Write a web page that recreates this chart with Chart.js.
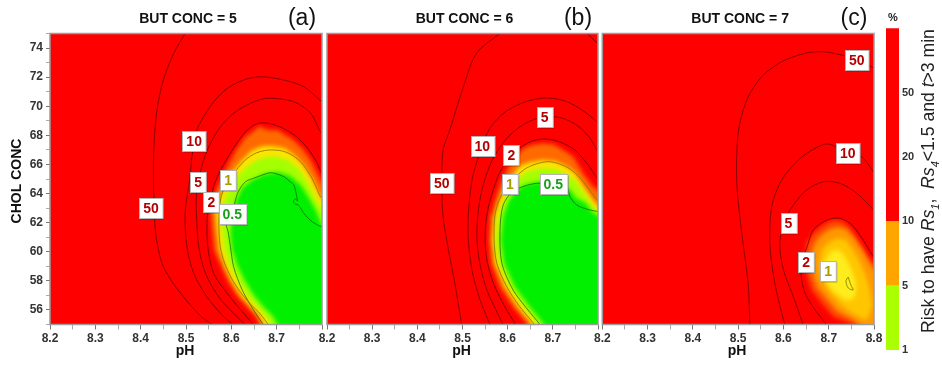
<!DOCTYPE html>
<html>
<head>
<meta charset="utf-8">
<script src="https://cdn.jsdelivr.net/npm/chart.js@4.4.0/dist/chart.umd.min.js"></script>
<style>
  html, body { margin: 0; padding: 0; background: #fff; }
  #wrap { position: relative; width: 942px; height: 369px; overflow: hidden; }
  canvas { position: absolute; top: 0; }
</style>
</head>
<body>
<div id="wrap">
  <canvas id="pa" width="335" height="369" style="left:0px"></canvas>
  <canvas id="pb" width="301" height="369" style="left:310px"></canvas>
  <canvas id="pc" width="305" height="369" style="left:585px"></canvas>
  <canvas id="cb" width="62" height="369" style="left:880px"></canvas>
</div>
<script>
// axes
const phTicks = [8.2, 8.3, 8.4, 8.5, 8.6, 8.7, 8.8];
const phMinor = [8.25, 8.35, 8.45, 8.55, 8.65, 8.75];
const cholTicks = [56, 58, 60, 62, 64, 66, 68, 70, 72, 74];
const cholMinor = [55, 57, 59, 61, 63, 65, 67, 69, 71, 73, 75];
const butConc = [5, 6, 7];
const panelTags = ['(a)', '(b)', '(c)'];

// colour bar
const cbTicks = ['1', '5', '10', '20', '50'];
const cbBands = [1, 1, 3];

// ---- panel (a): risk regions [pH, chol] ----
const edgeA = [[8.669,54.62],[8.653,55.58],[8.635,56.20],[8.611,57.03],[8.591,58.06],[8.576,59.09],[8.562,60.12],[8.558,61.29],[8.554,62.66],[8.560,63.69],[8.571,64.52],[8.589,65.76],[8.611,66.99],[8.631,67.89],[8.649,68.30],[8.662,68.64],[8.673,68.44],[8.686,68.37],[8.702,68.37],[8.715,68.09],[8.737,67.68],[8.759,66.99],[8.775,66.31],[8.788,65.48],[8.799,64.79],[8.819,64.59],[8.819,54.62]];
const yellowA = [[8.677,54.62],[8.662,55.58],[8.644,56.20],[8.620,57.03],[8.600,58.06],[8.585,59.09],[8.573,60.12],[8.569,61.29],[8.565,62.66],[8.571,63.69],[8.582,64.38],[8.602,65.48],[8.624,66.31],[8.646,66.99],[8.669,67.27],[8.691,67.27],[8.717,67.13],[8.739,66.65],[8.759,65.97],[8.777,65.07],[8.792,64.11],[8.801,63.56],[8.819,63.42],[8.819,54.62]];
const limeA = [[8.691,54.62],[8.675,55.58],[8.657,56.20],[8.633,57.03],[8.613,58.06],[8.596,59.09],[8.585,60.12],[8.580,61.29],[8.578,62.66],[8.585,63.69],[8.598,64.38],[8.615,65.28],[8.638,65.97],[8.664,66.44],[8.697,66.58],[8.726,66.31],[8.748,65.76],[8.766,64.93],[8.781,64.04],[8.794,63.21],[8.819,62.73],[8.819,54.62]];
const greenA = [[8.708,54.62],[8.691,55.58],[8.671,56.20],[8.649,57.03],[8.629,58.06],[8.613,59.09],[8.602,60.12],[8.598,61.29],[8.602,62.53],[8.611,63.56],[8.624,64.38],[8.646,64.93],[8.673,65.34],[8.704,65.48],[8.730,65.21],[8.753,64.59],[8.770,63.76],[8.786,62.87],[8.799,61.91],[8.819,61.63],[8.819,54.62]];

// panel (a): contour lines
const c50A = [[8.498,75.01],[8.473,73.64],[8.450,71.80],[8.436,69.74],[8.430,67.68],[8.428,65.39],[8.430,63.10],[8.433,61.27],[8.447,59.21],[8.470,57.90],[8.492,57.00],[8.513,56.22],[8.535,55.50],[8.557,55.01],[8.565,54.80]];
const c10A = [[8.820,70.00],[8.800,70.31],[8.760,71.34],[8.716,71.80],[8.664,72.03],[8.627,71.80],[8.591,71.23],[8.561,70.31],[8.539,69.28],[8.524,68.37],[8.513,66.53],[8.509,65.16],[8.498,62.66],[8.502,60.35],[8.517,58.52],[8.546,56.91],[8.583,55.54],[8.605,54.97],[8.620,54.60]];
const c5A = [[8.820,67.80],[8.799,68.14],[8.775,69.52],[8.738,70.31],[8.679,70.55],[8.642,70.20],[8.605,69.52],[8.576,68.59],[8.554,67.45],[8.539,66.31],[8.527,64.79],[8.523,63.90],[8.523,62.66],[8.528,60.35],[8.543,58.52],[8.572,56.91],[8.605,55.77],[8.631,54.97],[8.640,54.60]];
const c2A = [[8.820,65.00],[8.801,65.34],[8.788,66.17],[8.766,67.20],[8.739,68.02],[8.708,68.57],[8.677,68.85],[8.655,68.78],[8.633,68.30],[8.611,67.41],[8.589,66.31],[8.571,65.28],[8.560,64.38],[8.556,63.42],[8.547,62.39],[8.548,60.35],[8.561,58.52],[8.591,57.14],[8.624,55.88],[8.649,54.97],[8.655,54.60]];
const c1A = [[8.820,63.40],[8.799,63.69],[8.788,64.38],[8.775,65.21],[8.757,66.03],[8.737,66.58],[8.713,66.92],[8.682,66.99],[8.655,66.79],[8.631,66.31],[8.611,65.62],[8.593,64.93],[8.578,63.83],[8.573,62.66],[8.573,61.29],[8.576,60.26],[8.585,59.23],[8.600,58.20],[8.620,57.23],[8.642,56.41],[8.664,55.72],[8.682,54.97],[8.690,54.60]];
const c05A = [[8.820,61.60],[8.799,61.72],[8.778,62.07],[8.760,62.64],[8.748,63.21],[8.741,63.28],[8.737,63.45],[8.741,63.63],[8.746,63.49],[8.745,63.69],[8.738,64.59],[8.730,64.81],[8.716,65.16],[8.690,65.43],[8.679,65.39],[8.649,65.05],[8.631,64.81],[8.615,64.11],[8.607,63.28],[8.602,62.59],[8.589,61.91],[8.593,61.36],[8.598,60.35],[8.605,58.97],[8.624,57.37],[8.649,56.00],[8.671,54.97],[8.680,54.60]];
const labelsA = [['50',8.423,62.99],['10',8.518,67.61],['5',8.527,64.79],['2',8.556,63.42],['1',8.593,64.93],['0.5',8.602,62.59]];

// ---- panel (b) ----
const edgeB = [[8.643,54.62],[8.642,55.08],[8.612,56.20],[8.583,57.58],[8.563,59.23],[8.559,60.81],[8.561,62.39],[8.574,63.76],[8.587,64.93],[8.598,65.62],[8.616,66.42],[8.635,67.11],[8.653,67.34],[8.679,67.45],[8.701,67.39],[8.723,66.99],[8.745,66.53],[8.767,65.39],[8.786,64.59],[8.804,64.11],[8.827,64.11],[8.827,54.62]];
const yellowB = [[8.656,54.62],[8.652,55.10],[8.623,56.20],[8.594,57.58],[8.572,59.23],[8.566,60.81],[8.570,62.39],[8.583,63.63],[8.596,64.59],[8.610,65.28],[8.627,65.89],[8.649,66.17],[8.678,66.31],[8.705,66.24],[8.729,65.89],[8.749,65.41],[8.769,64.45],[8.787,63.63],[8.804,63.01],[8.827,63.01],[8.827,54.62]];
const limeB = [[8.672,54.62],[8.665,55.10],[8.636,56.20],[8.605,57.58],[8.581,59.23],[8.574,60.81],[8.579,62.39],[8.592,63.56],[8.605,64.38],[8.623,65.07],[8.645,65.55],[8.676,65.76],[8.707,65.69],[8.731,65.34],[8.753,64.79],[8.773,63.83],[8.791,63.08],[8.804,62.66],[8.827,62.66],[8.827,54.62]];
const greenB = [[8.687,54.62],[8.678,55.10],[8.649,56.20],[8.616,57.58],[8.592,59.23],[8.585,60.81],[8.590,62.39],[8.601,63.42],[8.616,64.11],[8.636,64.59],[8.663,64.79],[8.694,64.86],[8.720,64.66],[8.738,64.24],[8.751,63.69],[8.773,63.35],[8.787,62.73],[8.804,62.39],[8.827,62.39],[8.827,54.62]];

const c50B = [[8.600,75.40],[8.583,75.01],[8.531,73.64],[8.502,71.34],[8.472,68.37],[8.457,66.99],[8.454,64.70],[8.457,62.41],[8.469,60.12],[8.483,57.83],[8.498,55.01],[8.500,54.60]];
const c50Bcorner = [[8.760,75.20],[8.775,75.01],[8.799,74.33],[8.820,73.90]];
const c10B = [[8.565,54.60],[8.561,54.97],[8.539,56.68],[8.521,58.75],[8.512,61.49],[8.521,64.93],[8.544,67.28],[8.561,68.51],[8.594,69.60],[8.638,70.29],[8.683,70.57],[8.727,70.36],[8.765,69.74],[8.798,68.92],[8.815,68.51]];
const c5B = [[8.595,54.60],[8.590,54.97],[8.574,56.00],[8.554,57.37],[8.539,59.09],[8.532,60.81],[8.534,62.53],[8.543,64.24],[8.561,65.97],[8.583,67.20],[8.610,68.16],[8.645,68.92],[8.682,69.28],[8.720,69.19],[8.756,68.64],[8.782,67.82],[8.800,66.86],[8.815,66.31]];
const c2B = [[8.622,54.60],[8.618,54.97],[8.594,56.20],[8.570,57.71],[8.554,59.43],[8.550,61.15],[8.556,62.87],[8.568,64.24],[8.583,65.48],[8.608,66.65],[8.627,67.13],[8.654,67.61],[8.683,67.75],[8.716,67.54],[8.749,66.99],[8.778,65.97],[8.798,65.07],[8.815,64.52]];
const c1B = [[8.665,54.60],[8.660,54.97],[8.627,56.22],[8.598,57.60],[8.576,59.21],[8.570,60.81],[8.572,62.53],[8.583,63.69],[8.605,64.67],[8.635,65.62],[8.663,66.03],[8.694,66.19],[8.731,65.82],[8.756,65.21],[8.776,64.45],[8.798,63.56],[8.815,63.14]];
const c05B = [[8.678,54.60],[8.672,54.97],[8.642,56.11],[8.612,57.37],[8.587,59.21],[8.583,61.49],[8.590,63.21],[8.610,64.11],[8.638,64.52],[8.664,64.70],[8.701,64.67],[8.731,64.47],[8.738,63.78],[8.753,63.21],[8.782,62.87],[8.803,62.75],[8.815,62.66]];
const labelsB = [['50',8.454,64.70],['10',8.544,67.28],['5',8.682,69.28],['2',8.608,66.65],['1',8.605,64.67],['0.5',8.701,64.67]];

// ---- panel (c) ----
const edgeC = [[8.813,53.90],[8.784,54.83],[8.747,55.08],[8.710,55.54],[8.685,56.46],[8.662,57.37],[8.651,58.52],[8.648,59.66],[8.651,60.58],[8.666,61.27],[8.688,61.84],[8.710,62.18],[8.732,62.07],[8.751,61.49],[8.769,60.58],[8.787,59.66],[8.800,59.16],[8.813,59.02]];
const orangeC = [[8.813,53.93],[8.782,54.62],[8.751,55.38],[8.718,55.93],[8.696,56.75],[8.674,57.58],[8.663,58.61],[8.661,59.64],[8.666,60.40],[8.679,61.01],[8.698,61.49],[8.718,61.70],[8.738,61.56],[8.756,60.95],[8.774,60.12],[8.789,59.30],[8.800,58.75],[8.813,58.61]];
const amberC = [[8.780,55.31],[8.747,55.86],[8.721,56.55],[8.698,57.37],[8.683,58.33],[8.679,59.30],[8.685,60.12],[8.701,60.67],[8.721,60.95],[8.738,60.81],[8.754,60.12],[8.769,59.30],[8.782,58.33],[8.791,57.37],[8.796,56.34],[8.787,55.45]];
const yellowC = [[8.736,56.68],[8.712,57.23],[8.694,57.92],[8.687,58.75],[8.694,59.57],[8.709,60.12],[8.725,60.12],[8.738,59.57],[8.751,58.75],[8.760,57.92],[8.760,57.10],[8.751,56.68]];

const c50C = [[8.528,54.60],[8.526,55.01],[8.522,57.83],[8.508,61.27],[8.497,64.70],[8.500,68.14],[8.519,70.43],[8.552,72.03],[8.596,73.06],[8.648,73.64],[8.685,73.75],[8.729,73.52],[8.762,73.18],[8.801,72.61],[8.820,72.40]];
const c10C = [[8.608,54.60],[8.603,54.97],[8.581,57.83],[8.570,60.58],[8.574,63.10],[8.596,64.93],[8.633,66.31],[8.670,67.11],[8.699,67.41],[8.742,66.77],[8.773,66.53],[8.801,65.39],[8.813,64.93]];
const c5C = [[8.650,54.60],[8.644,54.97],[8.622,56.91],[8.600,58.75],[8.592,60.58],[8.603,62.18],[8.622,63.21],[8.651,64.24],[8.688,64.81],[8.725,64.70],[8.762,64.02],[8.799,62.87],[8.813,62.32]];
const c2C = [[8.705,54.60],[8.696,54.97],[8.670,56.00],[8.648,57.14],[8.639,58.40],[8.643,59.57],[8.652,60.33],[8.666,61.49],[8.696,62.18],[8.725,62.30],[8.751,61.84],[8.776,60.81],[8.799,59.66],[8.813,59.30]];
const c1C = [[8.743,58.26],[8.749,57.71],[8.754,57.37],[8.743,57.51],[8.738,57.99],[8.743,58.26]];
const labelsC = [['50',8.762,73.18],['10',8.742,66.77],['5',8.611,61.96],['2',8.650,59.32],['1',8.699,58.69]];

// ---- styles ----
const FONT = '"Liberation Sans", Arial, Helvetica, sans-serif';
const RED = '#ff0000';
const greenRamp = ['#ff6a00', '#ffe400', '#a4ff00', '#00f000'];
const orangeRamp = ['#ff4a00', '#ff9800', '#ffc600', '#ffec1c'];
const DARK = 'rgba(70,0,0,0.62)';
const lineColor = { '50': DARK, '10': DARK, '5': DARK, '2': DARK, '1': 'rgba(130,125,0,0.85)', '0.5': 'rgba(20,90,20,0.7)' };
const labelColor = { '50': '#b40000', '10': '#b40000', '5': '#b40000', '2': '#b40000', '1': '#a89c00', '0.5': '#1a9f1a' };

Chart.defaults.font.family = FONT;
Chart.defaults.animation = false;

function heatPlugin(regions, colours) {
  return {
    id: 'heat',
    beforeDatasetsDraw(chart) {
      const { ctx, chartArea: a, scales: { x, y } } = chart;
      ctx.save();
      ctx.beginPath();
      ctx.rect(a.left, a.top, a.width, a.height);
      ctx.clip();
      ctx.fillStyle = RED;
      ctx.fillRect(a.left, a.top, a.width, a.height);
      regions.forEach((poly, i) => {
        ctx.filter = 'blur(2px)';
        ctx.fillStyle = colours[i];
        ctx.beginPath();
        poly.forEach(([ph, ch], j) => {
          const px = x.getPixelForValue(ph), py = y.getPixelForValue(ch);
          if (j) ctx.lineTo(px, py); else ctx.moveTo(px, py);
        });
        ctx.closePath();
        ctx.fill();
      });
      ctx.filter = 'none';
      ctx.restore();
    }
  };
}

function overlayPlugin(idx, labels, showYTitle) {
  return {
    id: 'overlay',
    afterDatasetsDraw(chart) {
      const { ctx, chartArea: a, scales: { x, y } } = chart;
      ctx.save();
      ctx.strokeStyle = '#9c9c9c';
      ctx.lineWidth = 1.5;
      ctx.strokeRect(a.left, a.top, a.width, a.height);
      ctx.font = 'bold 14px ' + FONT;
      ctx.textAlign = 'center';
      ctx.textBaseline = 'middle';
      labels.forEach(([txt, ph, ch]) => {
        const cx = x.getPixelForValue(ph), cy = y.getPixelForValue(ch);
        const w = ctx.measureText(txt).width + 8, h = 20;
        const l = Math.round(cx - w / 2) + 0.5, t = Math.round(cy - h / 2) + 0.5;
        ctx.fillStyle = 'rgba(0,0,0,0.3)';
        ctx.fillRect(l + 1, t + 1, w, h);
        ctx.fillStyle = '#fff';
        ctx.fillRect(l, t, w, h);
        ctx.strokeStyle = '#b4b4b4';
        ctx.lineWidth = 1;
        ctx.strokeRect(l, t, w, h);
        ctx.fillStyle = labelColor[txt];
        ctx.fillText(txt, cx, cy + 1);
      });
      ctx.restore();
    },
    afterDraw(chart) {
      const { ctx, chartArea: a } = chart;
      const mid = (a.left + a.right) / 2;
      ctx.save();
      ctx.fillStyle = '#111';
      ctx.textAlign = 'center';
      ctx.textBaseline = 'middle';
      ctx.font = 'bold 14px ' + FONT;
      ctx.fillText('BUT CONC = ' + butConc[idx], mid + 2, 19);
      ctx.font = '23px ' + FONT;
      ctx.fillText(panelTags[idx], a.right - 20, 19);
      ctx.font = 'bold 14px ' + FONT;
      ctx.fillText('pH', mid - 1, 351);
      if (showYTitle) {
        ctx.translate(17, (a.top + a.bottom) / 2 + 2);
        ctx.rotate(-Math.PI / 2);
        ctx.font = 'bold 14px ' + FONT;
        ctx.fillText('CHOL CONC', 0, 0);
      }
      ctx.restore();
    }
  };
}

function makePanel(id, idx, regions, colours, contours, labels, pad, showY) {
  // the next panel covers the last pH label of the panels on its left
  const lastShown = idx < 2 ? 8.7 : 8.8;
  new Chart(document.getElementById(id), {
    type: 'scatter',
    data: {
      datasets: contours.map(([level, pts]) => ({
        data: pts,
        showLine: true,
        borderColor: lineColor[level],
        borderWidth: 1,
        pointRadius: 0,
        tension: 0.3,
        fill: false
      }))
    },
    options: {
      responsive: false,
      devicePixelRatio: 1,
      layout: { padding: { top: 33.5, left: pad.left, right: pad.right, bottom: 0 } },
      plugins: { legend: { display: false }, tooltip: { enabled: false } },
      scales: {
        x: {
          min: 8.2, max: 8.8,
          afterBuildTicks: s => {
            s.ticks = [...phTicks, ...phMinor].sort((p, q) => p - q).map(v => ({ value: v, major: phTicks.includes(v) }));
          },
          afterFit: s => { s.height = 44.5; },
          ticks: {
            autoSkip: false, maxRotation: 0, padding: 2,
            color: '#333', font: { size: 12, weight: 'bold' },
            callback: v => (phTicks.includes(v) && v <= lastShown) ? v.toFixed(1) : ''
          },
          grid: {
            drawOnChartArea: false, drawTicks: true, tickLength: 5,
            tickColor: c => (c.tick && c.tick.major) ? '#777' : '#aaa'
          },
          border: { display: false }
        },
        y: {
          display: showY,
          min: 55, max: 75,
          afterBuildTicks: s => {
            s.ticks = [...cholTicks, ...cholMinor].sort((p, q) => p - q).map(v => ({ value: v, major: cholTicks.includes(v) }));
          },
          afterFit: s => { s.width = showY ? 50 : 0; },
          ticks: {
            autoSkip: false, padding: 3,
            color: '#333', font: { size: 12, weight: 'bold' },
            callback: v => cholTicks.includes(v) ? String(v) : ''
          },
          grid: {
            drawOnChartArea: false, drawTicks: true, tickLength: 4,
            tickColor: c => (c.tick && c.tick.major) ? '#777' : '#aaa'
          },
          border: { display: false }
        }
      }
    },
    plugins: [heatPlugin(regions, colours), overlayPlugin(idx, labels, showY)]
  });
}

makePanel('pa', 0, [edgeA, yellowA, limeA, greenA], greenRamp,
  [['50', c50A], ['10', c10A], ['5', c5A], ['2', c2A], ['1', c1A], ['0.5', c05A]],
  labelsA, { left: 0, right: 13 }, true);
makePanel('pb', 1, [edgeB, yellowB, limeB, greenB], greenRamp,
  [['50', c50B], ['50', c50Bcorner], ['10', c10B], ['5', c5B], ['2', c2B], ['1', c1B], ['0.5', c05B]],
  labelsB, { left: 17, right: 13 }, false);
makePanel('pc', 2, [edgeC, orangeC, amberC, yellowC], orangeRamp,
  [['50', c50C], ['10', c10C], ['5', c5C], ['2', c2C], ['1', c1C]],
  labelsC, { left: 17.3, right: 16 }, false);

// ---- colour bar ----
const cbColours = ['#aaff00', '#ffa500', '#ff0000'];
const cbTitle = [['Risk to have ', 'n'], ['Rs', 'i'], ['1', 's'], [',  ', 'n'], ['Rs', 'i'], ['4', 's'], ['<1.5 and ', 'n'], ['t', 'i'], ['>3 min', 'n']];

new Chart(document.getElementById('cb'), {
  type: 'bar',
  data: {
    labels: [''],
    datasets: cbBands.map((b, i) => ({ data: [b], backgroundColor: cbColours[i], borderWidth: 0, barPercentage: 1, categoryPercentage: 1 }))
  },
  options: {
    responsive: false,
    devicePixelRatio: 1,
    layout: { padding: { top: 28.3, left: 6, right: 0, bottom: 19 } },
    plugins: { legend: { display: false }, tooltip: { enabled: false } },
    scales: {
      x: { stacked: true, display: false },
      y: {
        stacked: true, position: 'right', min: 0, max: 5,
        afterBuildTicks: s => { s.ticks = cbTicks.map((t, i) => ({ value: i })); },
        afterFit: s => { s.width = 43; },
        ticks: { padding: 3, color: '#333', font: { size: 11, weight: 'bold' }, callback: v => cbTicks[v] },
        grid: { display: false, drawTicks: false },
        border: { display: false }
      }
    }
  },
  plugins: [{
    id: 'cbText',
    afterDraw(chart) {
      const { ctx } = chart;
      ctx.save();
      ctx.fillStyle = '#222';
      ctx.textAlign = 'center';
      ctx.textBaseline = 'middle';
      ctx.font = 'bold 11px ' + FONT;
      ctx.fillText('%', 13, 18);
      // rotated axis title, fitted to the bar length
      const fontFor = (kind, size) => (kind === 'n' ? '' : 'italic ') + (kind === 's' ? Math.round(size * 0.65) : size) + 'px ' + FONT;
      const measure = size => cbTitle.reduce((w, [t, k]) => { ctx.font = fontFor(k, size); return w + ctx.measureText(t).width; }, 0);
      const size = 18 * 305 / measure(18);
      ctx.translate(54, 333);
      ctx.rotate(-Math.PI / 2);
      ctx.textAlign = 'left';
      ctx.textBaseline = 'alphabetic';
      let xo = 0;
      cbTitle.forEach(([t, k]) => {
        ctx.font = fontFor(k, size);
        ctx.fillText(t, xo, k === 's' ? size * 0.3 : 0);
        xo += ctx.measureText(t).width;
      });
      ctx.restore();
    }
  }]
});
</script>
</body>
</html>
